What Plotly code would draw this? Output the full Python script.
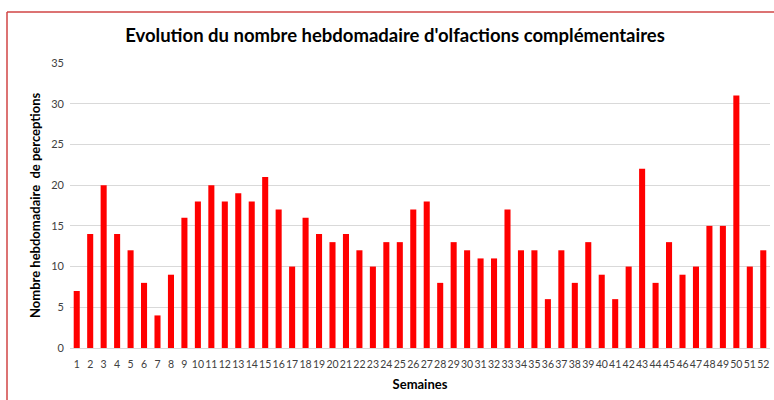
import plotly.graph_objects as go

weeks = [str(i) for i in range(1, 53)]
values = [7, 14, 20, 14, 12, 8, 4, 9, 16, 18, 20, 18, 19, 18, 21, 17, 10, 16, 14, 13,
          14, 12, 10, 13, 13, 17, 18, 8, 13, 12, 11, 11, 17, 12, 12, 6, 12, 8, 13, 9,
          6, 10, 22, 8, 13, 9, 10, 15, 15, 31, 10, 12]
y_ticks = [0, 5, 10, 15, 20, 25, 30, 35]

title_text = "Evolution du nombre hebdomadaire d'olfactions complémentaires"
x_title = "Semaines"
y_title = "Nombre hebdomadaire  de perceptions"

fig = go.Figure(go.Bar(x=weeks, y=values, marker=dict(color="#ff0000", line=dict(width=0))))

W, H = 774, 400
L, R, T, B = 70, 4, 63, 52
pw, ph = W - L - R, H - T - B

def px_x(x):
    return (x - L) / pw

def px_y(y):
    return (H - B - y) / ph

fig.update_layout(
    width=W, height=H,
    margin=dict(l=L, r=R, t=T, b=B, autoexpand=False),
    paper_bgcolor="white", plot_bgcolor="white",
    bargap=0.55,
    showlegend=False,
    font=dict(family="Lato, Open Sans, sans-serif", color="#595959"),
    title=dict(text="<b>" + title_text + "</b>", x=px_x(395), xref="paper", xanchor="center",
               y=1 - 36 / H, yanchor="middle", font=dict(size=18.5, color="#000000", family="Lato")),
    xaxis=dict(type="category", range=[-0.5, 51.5], showgrid=False, showline=True,
               linecolor="#d9d9d9", linewidth=1, ticks="", tickangle=0, automargin=False,
               tickfont=dict(size=10.5, color="#404040"), ticklabelstandoff=6,
               title=dict(text="<b>" + x_title + "</b>", font=dict(size=13, color="#000000"), standoff=11)),
    yaxis=dict(range=[0, 35], tickvals=y_ticks, showgrid=True, gridcolor="#d9d9d9", gridwidth=1,
               zeroline=False, showline=False, ticks="", tickfont=dict(size=11, color="#404040"),
               ticklabelstandoff=5, automargin=False),
)

fig.add_annotation(text="<b>" + y_title + "</b>", xref="paper", yref="paper",
                   x=px_x(35), y=px_y(205), xanchor="center", yanchor="middle",
                   textangle=-90, showarrow=False, font=dict(size=13, color="#000000"))

border = "#d04545"
fig.add_shape(type="line", xref="paper", yref="paper", x0=px_x(7), x1=px_x(7),
              y0=px_y(420), y1=px_y(12), line=dict(color=border, width=1.5))
fig.add_shape(type="line", xref="paper", yref="paper", x0=px_x(7), x1=px_x(800),
              y0=px_y(12), y1=px_y(12), line=dict(color=border, width=1.5))

fig.write_html("out.html", config={"displayModeBar": False},
               post_script="document.body.style.margin='0';document.body.style.overflow='hidden';")
